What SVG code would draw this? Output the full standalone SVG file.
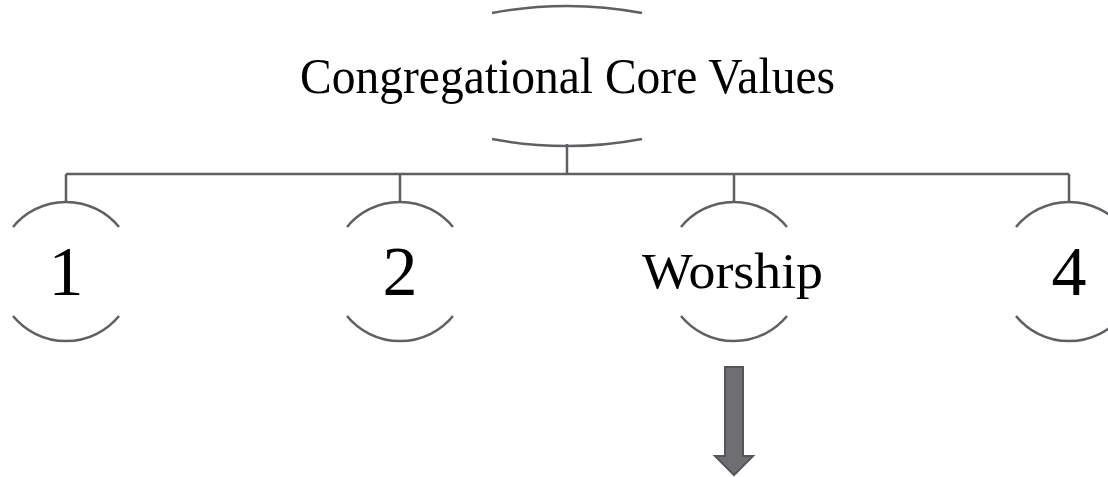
<svg xmlns="http://www.w3.org/2000/svg" width="1108" height="477" viewBox="0 0 1108 477">
<style>
.arc{fill:none;stroke:#5f5f64;stroke-width:2.5;}
.conn{fill:none;stroke:#5f5f64;stroke-width:2.5;}
.t{font-family:"Liberation Serif","DejaVu Serif",serif;fill:#000;text-anchor:middle;}
</style>
<rect width="1108" height="477" fill="#fff"/>
<g id="connectors">
<path class="conn" d="M567,144 V174 M66,174 H1069 M66,174 V203 M400,174 V203 M734,174 V203 M1069,174 V203"/>
</g>
<g id="root">
<path class="arc" d="M492,13 A405 405 0 0 1 642,13"/>
<path class="arc" d="M492,139 A405 405 0 0 0 642,139"/>
<text class="t" x="567.5" y="93" font-size="50" textLength="535" lengthAdjust="spacingAndGlyphs">Congregational Core Values</text>
</g>
<g id="node1">
<path class="arc" d="M13,227 A68.5 68.5 0 0 1 119,227"/>
<path class="arc" d="M13,316 A68.5 68.5 0 0 0 119,316"/>
<text class="t" x="66" y="295" font-size="70">1</text>
</g>
<g id="node2">
<path class="arc" d="M347,227 A68.5 68.5 0 0 1 453,227"/>
<path class="arc" d="M347,316 A68.5 68.5 0 0 0 453,316"/>
<text class="t" x="400" y="295" font-size="70">2</text>
</g>
<g id="node3">
<path class="arc" d="M681,227 A68.5 68.5 0 0 1 787,227"/>
<path class="arc" d="M681,316 A68.5 68.5 0 0 0 787,316"/>
<text class="t" x="732.5" y="288" font-size="50" textLength="181" lengthAdjust="spacingAndGlyphs">Worship</text>
</g>
<g id="node4">
<path class="arc" d="M1016,227 A68.5 68.5 0 0 1 1122,227"/>
<path class="arc" d="M1016,316 A68.5 68.5 0 0 0 1122,316"/>
<text class="t" x="1069" y="295" font-size="70">4</text>
</g>
<g id="arrow">
<path d="M725,367 H743 V456 H753 L734,475 L715,456 H725 Z" fill="#6e6e73" stroke="#55555a" stroke-width="2"/>
</g>
</svg>
